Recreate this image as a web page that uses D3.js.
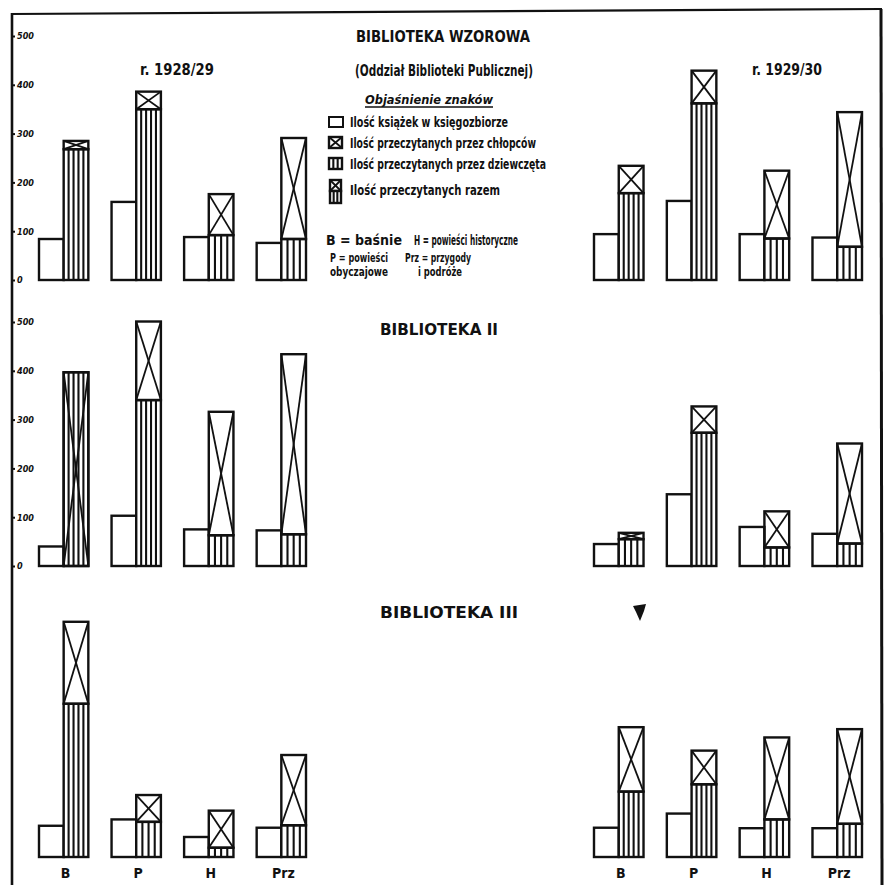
<!DOCTYPE html>
<html>
<head>
<meta charset="utf-8">
<script src="https://cdn.jsdelivr.net/npm/d3@7"></script>
<style>
  body { margin: 0; background: #fff; }
  svg { display: block; background: #fff; }
  text { font-family: "DejaVu Sans Condensed", "Liberation Sans Narrow", "DejaVu Sans", sans-serif; fill: #111; }
</style>
</head>
<body>
<svg></svg>
<script>
// Canvas size
var w = 886;
var h = 885;
var ink = "#111";

// Categories and axis ticks
var categories = ["B", "P", "H", "Prz"];
var axisTicks = [0, 100, 200, 300, 400, 500];

// Biblioteka Wzorowa (ksiegozbior = books owned, dziewczeta = read by girls, chlopcy = read by boys)
var wzorowa2829Ksiegozbior = [84, 160, 88, 76];
var wzorowa2829Dziewczeta = [268, 350, 92, 84];
var wzorowa2829Chlopcy = [17, 36, 84, 207];
var wzorowa2930Ksiegozbior = [94, 162, 94, 87];
var wzorowa2930Dziewczeta = [178, 362, 85, 68];
var wzorowa2930Chlopcy = [56, 67, 139, 276];

// Biblioteka II (B 1928/29 only given as a combined total)
var bib2_2829Ksiegozbior = [40, 103, 75, 73];
var bib2_2829Dziewczeta = [null, 340, 63, 65];
var bib2_2829Chlopcy = [null, 161, 253, 369];
var bib2_2829Razem = [397, null, null, null];
var bib2_2930Ksiegozbior = [45, 147, 80, 66];
var bib2_2930Dziewczeta = [55, 273, 38, 46];
var bib2_2930Chlopcy = [13, 54, 74, 205];

// Biblioteka III
var bib3_2829Ksiegozbior = [64, 77, 41, 60];
var bib3_2829Dziewczeta = [314, 72, 19, 65];
var bib3_2829Chlopcy = [168, 55, 76, 144];
var bib3_2930Ksiegozbior = [60, 89, 59, 59];
var bib3_2930Dziewczeta = [134, 149, 77, 68];
var bib3_2930Chlopcy = [132, 69, 168, 194];

// Layout of the six groups
var panels = [
    { base: 280, side: "left", axis: true, ks: wzorowa2829Ksiegozbior, dz: wzorowa2829Dziewczeta, ch: wzorowa2829Chlopcy },
    { base: 280, side: "right", axis: false, ks: wzorowa2930Ksiegozbior, dz: wzorowa2930Dziewczeta, ch: wzorowa2930Chlopcy },
    { base: 566, side: "left", axis: true, ks: bib2_2829Ksiegozbior, dz: bib2_2829Dziewczeta, ch: bib2_2829Chlopcy, razem: bib2_2829Razem },
    { base: 566, side: "right", axis: false, ks: bib2_2930Ksiegozbior, dz: bib2_2930Dziewczeta, ch: bib2_2930Chlopcy },
    { base: 857, side: "left", axis: false, ks: bib3_2829Ksiegozbior, dz: bib3_2829Dziewczeta, ch: bib3_2829Chlopcy, labels: true },
    { base: 857, side: "right", axis: false, ks: bib3_2930Ksiegozbior, dz: bib3_2930Dziewczeta, ch: bib3_2930Chlopcy, labels: true }
];

var svg = d3.select("svg")
    .attr("width", w)
    .attr("height", h);

// x scales for left (1928/29) and right (1929/30) halves
var xLeft = d3.scaleBand().domain(categories).range([39, 306]).paddingInner(0.32);
var xRight = d3.scaleBand().domain(categories).range([594, 862]).paddingInner(0.32);

function drawCross(g, x, y, width, height) {
    g.append("rect")
        .attr("x", x).attr("y", y)
        .attr("width", width).attr("height", height)
        .attr("fill", "none")
        .attr("stroke", ink)
        .attr("stroke-width", 2.4);
    g.append("line")
        .attr("x1", x).attr("y1", y).attr("x2", x + width).attr("y2", y + height)
        .attr("stroke", ink).attr("stroke-width", 1.8);
    g.append("line")
        .attr("x1", x + width).attr("y1", y).attr("x2", x).attr("y2", y + height)
        .attr("stroke", ink).attr("stroke-width", 1.8);
}

function drawStripes(g, x, y, width, height, n) {
    g.append("rect")
        .attr("x", x).attr("y", y)
        .attr("width", width).attr("height", height)
        .attr("fill", "#fff")
        .attr("stroke", ink)
        .attr("stroke-width", 2.4);
    for (var k = 1; k <= n; k++) {
        var lx = x + k * width / (n + 1);
        g.append("line")
            .attr("x1", lx).attr("y1", y).attr("x2", lx).attr("y2", y + height)
            .attr("stroke", ink).attr("stroke-width", 2.1);
    }
}

panels.forEach(function (p) {
    var xScale = p.side === "left" ? xLeft : xRight;
    var yScale = d3.scaleLinear().domain([0, 500]).range([p.base, p.base - 244]);
    var g = svg.append("g");

    categories.forEach(function (cat, i) {
        var sub = d3.scaleBand()
            .domain(["ksiegozbior", "czytane"])
            .range([xScale(cat), xScale(cat) + xScale.bandwidth()]);

        // Books owned: empty box
        g.append("rect")
            .attr("x", sub("ksiegozbior"))
            .attr("y", yScale(p.ks[i]))
            .attr("width", sub.bandwidth())
            .attr("height", yScale(0) - yScale(p.ks[i]))
            .attr("fill", "#fff")
            .attr("stroke", ink)
            .attr("stroke-width", 2.4);

        var xs = sub("czytane");
        var bw = sub.bandwidth();
        var razem = p.razem ? p.razem[i] : null;

        if (razem != null) {
            // combined total only: stripes and cross over the whole bar
            drawStripes(g, xs, yScale(razem), bw, yScale(0) - yScale(razem), 4);
            drawCross(g, xs, yScale(razem), bw, yScale(0) - yScale(razem));
        } else {
            var nStripes = (yScale(0) - yScale(p.dz[i])) > 60 ? 4 : 3;
            drawStripes(g, xs, yScale(p.dz[i]), bw, yScale(0) - yScale(p.dz[i]), nStripes);
            var top = p.dz[i] + p.ch[i];
            drawCross(g, xs, yScale(top), bw, yScale(p.dz[i]) - yScale(top));
        }

        if (p.labels) {
            g.append("text")
                .attr("x", xs + 2)
                .attr("y", p.base + 21)
                .attr("text-anchor", "middle")
                .attr("font-size", "14px")
                .attr("font-weight", "bold")
                .text(cat);
        }
    });

    if (p.axis) {
        var axis = svg.append("g")
            .attr("transform", "translate(12,0)")
            .call(d3.axisRight(yScale).tickValues(axisTicks).tickSize(3).tickPadding(2));
        axis.select(".domain").remove();
        axis.selectAll("line").attr("stroke", ink).attr("stroke-width", 2);
        axis.selectAll("text")
            .attr("font-size", "9px")
            .attr("font-style", "italic")
            .attr("font-weight", "bold")
            .attr("font-family", "'DejaVu Sans Condensed', 'DejaVu Sans', sans-serif")
            .attr("fill", ink);
    }
});

// Frame: top, left and right border lines
svg.append("line").attr("x1", 11).attr("y1", 14).attr("x2", 882).attr("y2", 9)
    .attr("stroke", ink).attr("stroke-width", 2.2);
svg.append("line").attr("x1", 12).attr("y1", 13).attr("x2", 12).attr("y2", 885)
    .attr("stroke", ink).attr("stroke-width", 2.6);
svg.append("line").attr("x1", 881).attr("y1", 9).attr("x2", 882).attr("y2", 885)
    .attr("stroke", ink).attr("stroke-width", 3);

// Helper for lettering
function label(x, y, str, size, len, opts) {
    opts = opts || {};
    var t = svg.append("text")
        .attr("x", x)
        .attr("y", y)
        .attr("font-size", size + "px")
        .attr("font-weight", opts.weight || "bold")
        .attr("text-anchor", opts.anchor || "start")
        .text(str);
    if (opts.italic) t.attr("font-style", "italic");
    if (len) t.attr("textLength", len).attr("lengthAdjust", "spacingAndGlyphs");
    return t;
}

// Titles
label(443, 42, "BIBLIOTEKA WZOROWA", 15, 174, { anchor: "middle" });
label(444, 76, "(Oddział Biblioteki Publicznej)", 15, 178, { anchor: "middle", weight: "600" });
label(177, 75, "r. 1928/29", 15, 74, { anchor: "middle" });
label(787, 75, "r. 1929/30", 15, 70, { anchor: "middle" });
label(380, 335, "BIBLIOTEKA II", 15, 118);
label(380, 618, "BIBLIOTEKA III", 15, 138);

// Legend ("Objaśnienie znaków")
label(365, 104, "Objaśnienie znaków", 11.5, 128, { italic: true });
svg.append("line").attr("x1", 365).attr("y1", 107).attr("x2", 493).attr("y2", 107)
    .attr("stroke", ink).attr("stroke-width", 1.3);

var legendRows = [
    { y: 127, text: "Ilość książek w księgozbiorze", len: 158 },
    { y: 148, text: "Ilość przeczytanych przez chłopców", len: 186 },
    { y: 169, text: "Ilość przeczytanych przez dziewczęta", len: 196 },
    { y: 195, text: "Ilość przeczytanych razem", len: 150 }
];
legendRows.forEach(function (r) {
    label(350, r.y, r.text, 13.5, r.len);
});

var lg = svg.append("g");
lg.append("rect").attr("x", 329).attr("y", 117).attr("width", 14).attr("height", 10)
    .attr("fill", "#fff").attr("stroke", ink).attr("stroke-width", 2);
drawCross(lg, 329, 137, 13, 11);
drawStripes(lg, 329, 158, 13, 11, 2);
drawCross(lg, 330, 180, 11, 11);
drawStripes(lg, 330, 191, 11, 12, 2);

// Category key
label(326, 245, "B = baśnie", 14, 76);
label(414, 245, "H = powieści historyczne", 14, 104);
label(330, 262, "P = powieści", 12.5, 58);
label(330, 276, "obyczajowe", 12.5, 58);
label(405, 262, "Prz = przygody", 12.5, 66);
label(418, 276, "i podróże", 12.5, 44);

// ink blot from the original scan
svg.append("path")
    .attr("d", "M633,606 L646,604 L644,611 L640,621 L636,612 Z")
    .attr("fill", ink);
</script>
</body>
</html>
